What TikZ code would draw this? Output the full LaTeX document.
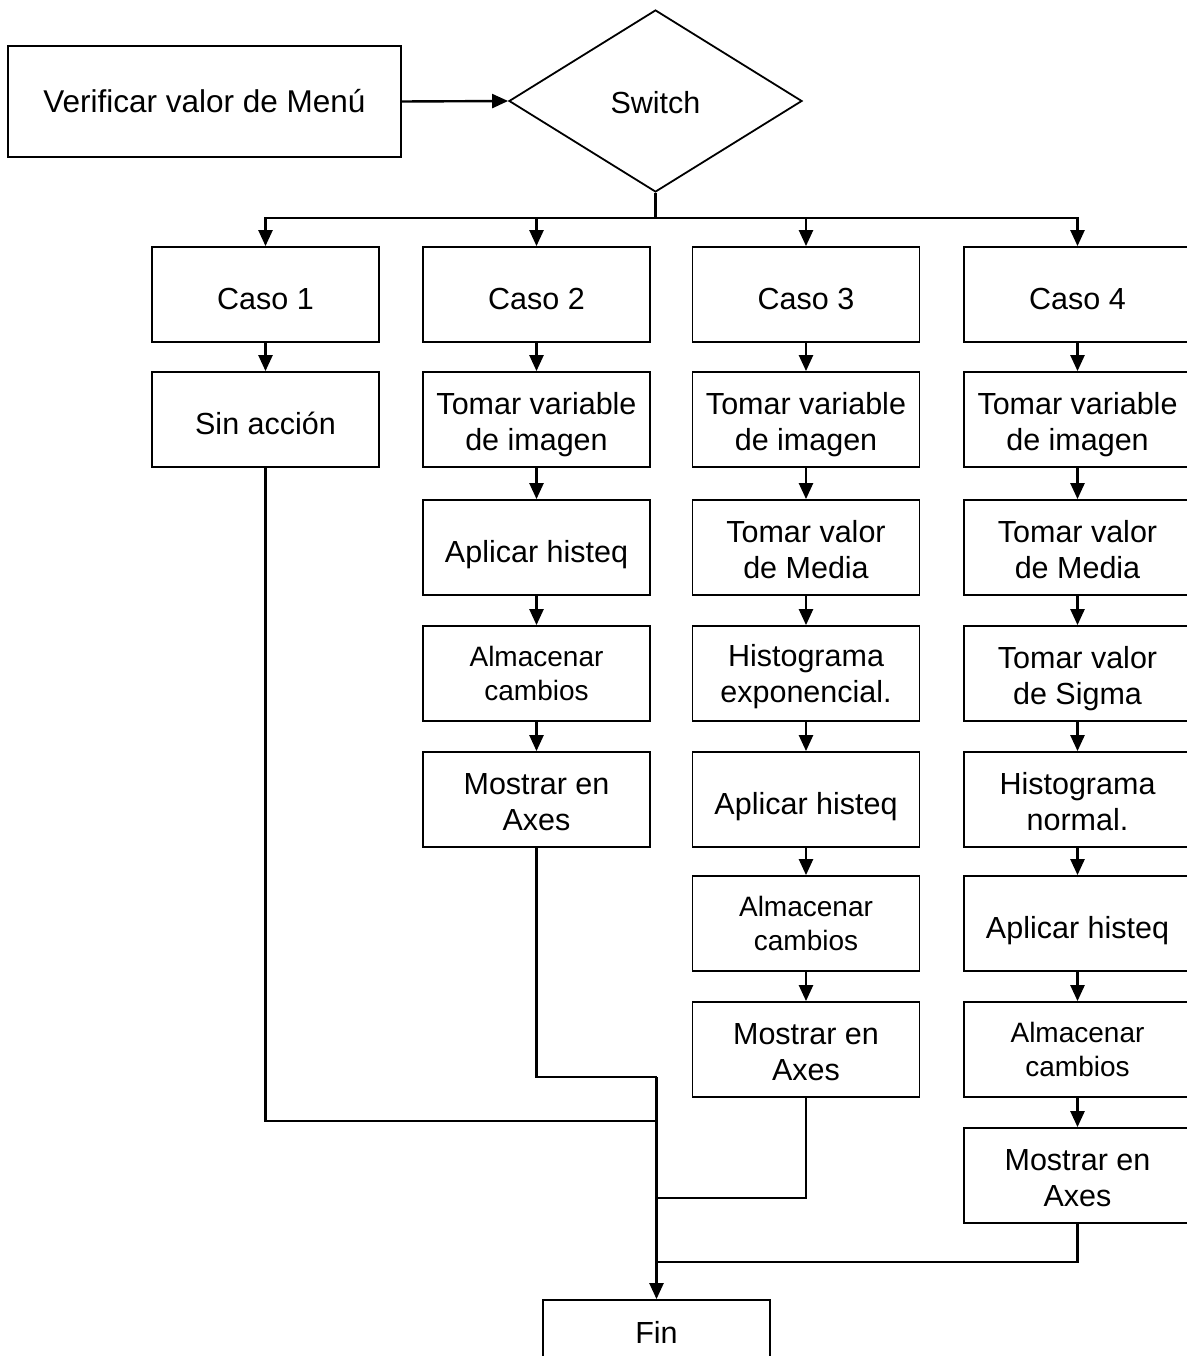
\documentclass[tikz,border=0pt]{standalone}
\usepackage{fontspec}
\setmainfont{Liberation Sans}
\usetikzlibrary{arrows.meta,shapes.geometric}
\newcommand\sunkamt{0pt}
% centred (multi-line) text, lowered by \sunkamt without changing its box
\newcommand\cell[1]{\raisebox{-\sunkamt}[\height][\depth]{\begin{tabular}{@{}c@{}}#1\end{tabular}}}
\begin{document}
\begin{tikzpicture}[x=1pt,y=-1pt,
  sunk/.store in=\sunkamt,
  box/.style={draw, line width=1.8pt, minimum width=227pt, minimum height=95pt,
              inner sep=0pt, font=\fontsize{30.5}{36}\selectfont, sunk=5.5pt},
  one/.style={sunk=7.5pt},
  small/.style={font=\fontsize{28}{34}\selectfont, sunk=3pt},
  link/.style={line width=2.4pt},
  arr/.style={link, -{Triangle[width=14pt,length=16pt]}},
]
\useasboundingbox (0,0) rectangle (1186,1356);

% start and decision
\node[box, minimum width=393pt, minimum height=111pt, font=\fontsize{31.5}{36}\selectfont, sunk=4pt]
  (verif) at (204.5,101.5) {\cell{Verificar valor de Menú}};
\node[draw, line width=1.8pt, diamond, minimum width=293pt, minimum height=182pt, inner sep=0pt,
      font=\fontsize{30.5}{36}\selectfont, sunk=5pt] (sw) at (655.5,101) {\cell{Switch}};

% column 1
\node[box, one] (a1) at (265.5,294.5) {\cell{Caso 1}};
\node[box, one] (a2) at (265.5,419.5) {\cell{Sin acción}};

% column 2
\node[box, one] (b1) at (536.5,294.5) {\cell{Caso 2}};
\node[box] (b2) at (536.5,419.5) {\cell{Tomar variable\\de imagen}};
\node[box, one] (b3) at (536.5,547.5) {\cell{Aplicar histeq}};
\node[box, small] (b4) at (536.5,673.5) {\cell{Almacenar\\cambios}};
\node[box] (b5) at (536.5,799.5) {\cell{Mostrar en\\Axes}};

% column 3
\node[box, one] (c1) at (806,294.5) {\cell{Caso 3}};
\node[box] (c2) at (806,419.5) {\cell{Tomar variable\\de imagen}};
\node[box] (c3) at (806,547.5) {\cell{Tomar valor\\de Media}};
\node[box, sunk=4pt] (c4) at (806,673.5) {\cell{Histograma\\exponencial.}};
\node[box, one] (c5) at (806,799.5) {\cell{Aplicar histeq}};
\node[box, small] (c6) at (806,923.5) {\cell{Almacenar\\cambios}};
\node[box] (c7) at (806,1049.5) {\cell{Mostrar en\\Axes}};

% column 4
\node[box, one] (d1) at (1077.5,294.5) {\cell{Caso 4}};
\node[box] (d2) at (1077.5,419.5) {\cell{Tomar variable\\de imagen}};
\node[box] (d3) at (1077.5,547.5) {\cell{Tomar valor\\de Media}};
\node[box] (d4) at (1077.5,673.5) {\cell{Tomar valor\\de Sigma}};
\node[box] (d5) at (1077.5,799.5) {\cell{Histograma\\normal.}};
\node[box, one] (d6) at (1077.5,923.5) {\cell{Aplicar histeq}};
\node[box, small] (d7) at (1077.5,1049.5) {\cell{Almacenar\\cambios}};
\node[box] (d8) at (1077.5,1175.5) {\cell{Mostrar en\\Axes}};

% end
\node[box, minimum height=66pt, sunk=3pt] (fin) at (656.5,1333) {\cell{Fin}};

% junction points
\coordinate (br) at (655.5,218);
\coordinate (j2) at (656.5,1077);
\coordinate (j1) at (656.5,1121);
\coordinate (j3) at (656.5,1198);
\coordinate (j4) at (656.5,1262);

% connectors
\draw[arr] (verif.east) -- (sw.west);
\draw[link] (sw.south) -- (br);
\draw[arr] (br) -| (a1.north);
\draw[arr] (br) -| (b1.north);
\draw[arr] (br) -| (c1.north);
\draw[arr] (br) -| (d1.north);

\draw[arr] (a1) -- (a2);
\draw[arr] (b1) -- (b2);
\draw[arr] (b2) -- (b3);
\draw[arr] (b3) -- (b4);
\draw[arr] (b4) -- (b5);
\draw[arr] (c1) -- (c2);
\draw[arr] (c2) -- (c3);
\draw[arr] (c3) -- (c4);
\draw[arr] (c4) -- (c5);
\draw[arr] (c5) -- (c6);
\draw[arr] (c6) -- (c7);
\draw[arr] (d1) -- (d2);
\draw[arr] (d2) -- (d3);
\draw[arr] (d3) -- (d4);
\draw[arr] (d4) -- (d5);
\draw[arr] (d5) -- (d6);
\draw[arr] (d6) -- (d7);
\draw[arr] (d7) -- (d8);

\draw[link] (a2.south) |- (j1);
\draw[link] (b5.south) |- (j2);
\draw[link] (c7.south) |- (j3);
\draw[link] (d8.south) |- (j4);
\draw[arr] (j2) -- (fin.north);
\end{tikzpicture}
\end{document}
